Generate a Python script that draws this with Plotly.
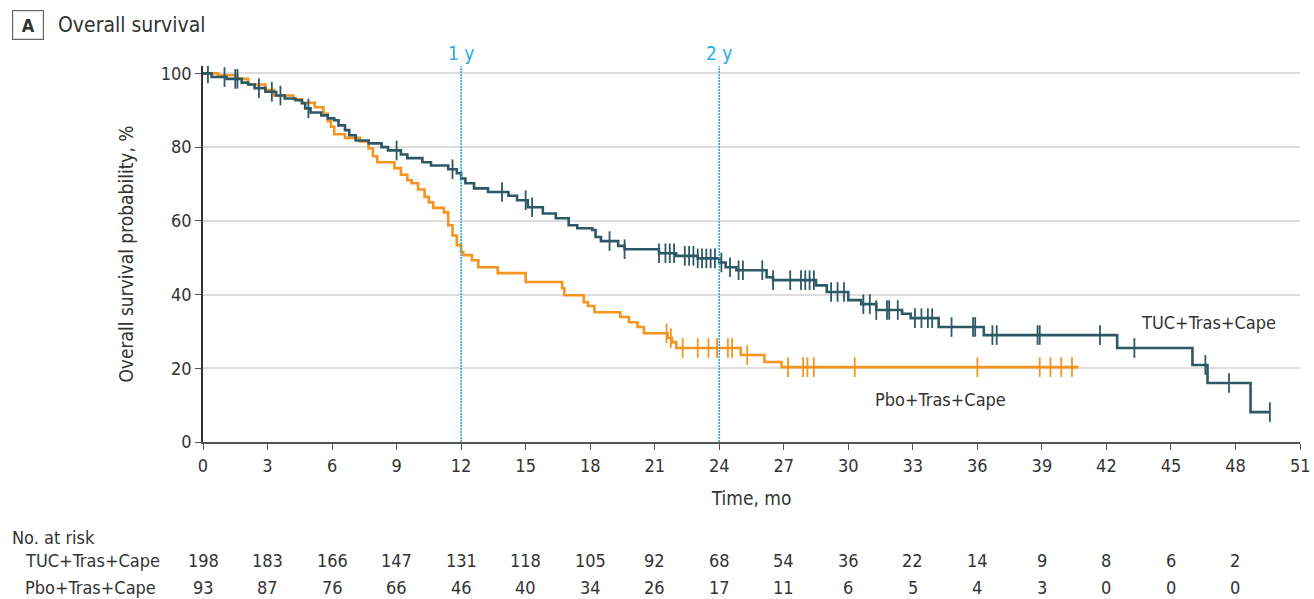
import plotly.graph_objects as go

# ---------------- data ----------------
tuc_times = [0, 0.4, 1.1, 1.8, 2.1, 2.4, 2.9, 3.4, 3.8, 4.3, 4.6, 4.75, 5.0, 5.5, 5.8, 6.1, 6.3, 6.6, 6.8, 7.1,
             7.7, 8.3, 8.6, 9.2, 9.5, 10.2, 10.6, 11.4, 11.8, 12.0, 12.2, 12.6, 13.25, 14.2, 14.6, 15.1, 15.8,
             16.4, 17.0, 17.4, 18.1, 18.25, 18.5, 19.3, 19.6, 21.2, 22.0, 23.0, 24.0, 24.3, 24.8, 26.2, 26.5,
             28.5, 29.0, 30.0, 30.6, 31.3, 32.5, 32.9, 34.2, 36.3, 42.5, 46.0, 46.7, 48.7]
tuc_surv = [100, 99.0, 98.5, 97.5, 97.0, 96.0, 95.0, 94.0, 93.2, 92.7, 91.9, 90.5, 89.4, 88.6, 87.8, 87.3, 85.9,
            84.6, 83.2, 81.8, 81.0, 80.0, 79.1, 78.0, 77.0, 75.9, 75.0, 74.0, 72.9, 71.5, 70.2, 68.8, 67.8, 66.8,
            65.6, 63.7, 62.0, 60.7, 58.8, 58.0, 57.5, 55.6, 54.5, 53.2, 52.3, 51.2, 50.5, 49.8, 48.7, 47.4, 46.6,
            44.7, 43.9, 42.5, 40.7, 38.5, 37.4, 35.8, 34.8, 33.6, 31.2, 29.0, 25.5, 20.9, 16.0, 8.1]
tuc_end = 49.6
tuc_censor = [0.23, 1.0, 1.5, 1.6, 2.6, 3.2, 3.6, 4.9, 9.0, 11.6, 13.9, 15.0, 15.3, 18.9, 19.6, 21.2, 21.5,
              21.7, 21.9, 22.4, 22.6, 22.8, 23.0, 23.2, 23.4, 23.6, 23.8, 24.1, 24.5, 24.9, 25.1, 26.0, 26.5,
              27.3, 27.8, 28.0, 28.2, 28.4, 29.2, 29.5, 29.8, 30.7, 31.0, 31.3, 31.8, 31.9, 32.3, 33.1, 33.4,
              33.7, 33.9, 34.8, 35.8, 35.9, 36.7, 36.9, 38.8, 38.9, 41.7, 43.3, 46.6, 47.7, 49.6]

pbo_times = [0, 0.7, 1.6, 2.1, 2.9, 3.3, 4.2, 4.6, 5.2, 5.6, 5.8, 5.95, 6.1, 6.6, 7.3, 7.7, 7.9, 8.1, 8.9,
             9.2, 9.5, 9.7, 10.0, 10.3, 10.5, 10.7, 11.2, 11.4, 11.6, 11.8, 12.0, 12.1, 12.5, 12.8, 13.7, 15.0,
             16.7, 16.8, 17.7, 17.9, 18.2, 19.4, 19.8, 20.2, 20.5, 21.6, 21.8, 22.0, 25.0, 26.1, 26.9]
pbo_surv = [100, 99.5, 98.5, 97.0, 95.5, 94.0, 93.0, 92.0, 90.8, 89.0, 87.0, 85.5, 83.5, 82.5, 81.5, 79.6,
            77.5, 75.9, 74.3, 72.5, 71.0, 70.2, 68.5, 66.5, 65.0, 63.5, 62.3, 58.8, 56.0, 53.4, 51.5, 50.7,
            49.3, 47.4, 45.8, 43.4, 41.7, 39.8, 37.9, 36.9, 35.2, 33.9, 32.5, 31.2, 29.5, 28.2, 27.1, 25.5,
            23.6, 21.7, 20.3]
pbo_end = 40.7
pbo_censor = [21.55, 21.75, 22.3, 23.0, 23.5, 23.9, 24.4, 24.6, 25.3, 27.2, 27.9, 28.1, 28.4, 30.3, 36.0,
              38.9, 39.4, 39.9, 40.4]

risk_times = [0, 3, 6, 9, 12, 15, 18, 21, 24, 27, 30, 33, 36, 39, 42, 45, 48]
risk_tuc = [198, 183, 166, 147, 131, 118, 105, 92, 68, 54, 36, 22, 14, 9, 8, 6, 2]
risk_pbo = [93, 87, 76, 66, 46, 40, 34, 26, 17, 11, 6, 5, 4, 3, 0, 0, 0]

x_ticks = list(range(0, 52, 3))
x_ticktext = [str(v) for v in x_ticks]
y_ticks = [0, 20, 40, 60, 80, 100]

TEAL = "#2d5866"
ORANGE = "#f7941d"
BLUE = "#29abe2"
TXT = "#333333"
FONT = "Liberation Sans Narrow, DejaVu Sans Condensed, Arial Narrow, sans-serif"


def surv_at(times, vals, t):
    s = vals[0]
    for ti, v in zip(times, vals):
        if ti <= t:
            s = v
    return s


fig = go.Figure()

for times, vals, end, cens, col, name in [
    (pbo_times, pbo_surv, pbo_end, pbo_censor, ORANGE, "Pbo+Tras+Cape"),
    (tuc_times, tuc_surv, tuc_end, tuc_censor, TEAL, "TUC+Tras+Cape"),
]:
    fig.add_trace(go.Scatter(
        x=times + [end], y=vals + [vals[-1]], mode="lines", line_shape="hv",
        line=dict(color=col, width=2.6), name=name, showlegend=False, hoverinfo="skip"))
    fig.add_trace(go.Scatter(
        x=cens, y=[surv_at(times, vals, t) for t in cens], mode="markers",
        marker=dict(symbol="line-ns", size=14, line=dict(color=col, width=1.8)),
        showlegend=False, hoverinfo="skip"))

# 1 y / 2 y dotted reference lines
for xv, lab in [(12, "1 y"), (24, "2 y")]:
    fig.add_shape(type="line", x0=xv, x1=xv, y0=0, y1=102, xref="x", yref="y",
                  line=dict(color=BLUE, width=1.6, dash="2px,1px"), layer="above")
    fig.add_annotation(x=xv, y=1.0, xref="x", yref="paper", yanchor="bottom", yshift=0,
                       text=lab, showarrow=False, font=dict(family=FONT, size=19, color=BLUE))

# series labels
fig.add_annotation(x=43.5, y=32.5, xref="x", yref="y", xanchor="left", text="TUC+Tras+Cape",
                   showarrow=False, font=dict(family=FONT, size=18, color=TXT))
fig.add_annotation(x=34.3, y=11.5, xref="x", yref="y", xanchor="center", text="Pbo+Tras+Cape",
                   showarrow=False, font=dict(family=FONT, size=18, color=TXT))

# last x tick label drawn as an annotation (keeps plot area from being shrunk)
fig.add_annotation(x=x_ticks[-1], y=0, xref="x", yref="paper", yanchor="top", yshift=-11,
                   text=x_ticktext[-1], showarrow=False, font=dict(family=FONT, size=18, color=TXT))

PH = 376.0  # plot height in px (top 66, bottom 442)
PW = 1097.0  # plot width in px (left 203, right 1300)


def py(ypix):
    return (442 - ypix) / PH


def px(xpix):
    return (xpix - 203) / PW


fig.add_annotation(x=px(28), y=py(25), xref="paper", yref="paper", xanchor="center", yanchor="middle",
                   text="<b>A</b>", showarrow=False,
                   font=dict(family=FONT, size=18, color=TXT), width=30, height=28,
                   bordercolor="#666666", borderwidth=1.2, borderpad=0)
fig.add_annotation(x=px(56), y=py(25), xref="paper", yref="paper", xanchor="left", yanchor="middle",
                   text="Overall survival", showarrow=False, font=dict(family=FONT, size=21, color=TXT))

# risk table
fig.add_annotation(x=px(10), y=py(537), xref="paper", yref="paper", xanchor="left", yanchor="middle",
                   text="No. at risk", showarrow=False, font=dict(family=FONT, size=18, color=TXT))
for label, nums, ypix in [("TUC+Tras+Cape", risk_tuc, 560), ("Pbo+Tras+Cape", risk_pbo, 587)]:
    fig.add_annotation(x=px(23), y=py(ypix), xref="paper", yref="paper", xanchor="left", yanchor="middle",
                       text=label, showarrow=False, font=dict(family=FONT, size=18, color=TXT))
    for t, n in zip(risk_times, nums):
        fig.add_annotation(x=t, y=py(ypix), xref="x", yref="paper", xanchor="center", yanchor="middle",
                           text=str(n), showarrow=False, font=dict(family=FONT, size=18, color=TXT))

fig.update_layout(
    width=1314, height=599,
    margin=dict(l=203, r=14, t=66, b=157),
    paper_bgcolor="white", plot_bgcolor="white",
    font=dict(family=FONT, size=17, color=TXT),
    xaxis=dict(range=[0, 51], tickvals=x_ticks, ticktext=x_ticktext[:-1] + [""], ticks="outside",
               ticklen=6, tickcolor="#555555", automargin=False,
               showgrid=False, zeroline=False, showline=True, linecolor="#555555", linewidth=2,
               tickfont=dict(family=FONT, size=18, color=TXT),
               title=dict(text="Time, mo", font=dict(family=FONT, size=19, color=TXT), standoff=17)),
    yaxis=dict(range=[0, 102], tickvals=y_ticks, ticks="outside", ticklen=6, tickcolor="#555555",
               showgrid=True, gridcolor="#dddddd", gridwidth=1.5, zeroline=False, showline=True,
               linecolor="#333333", linewidth=1.5,
               tickfont=dict(family=FONT, size=18, color=TXT),
               title=dict(text="Overall survival probability, %", font=dict(family=FONT, size=19, color=TXT),
                          standoff=22)),
)

fig.write_html("out.html", config={"displayModeBar": False},
               post_script="document.body.style.margin='0';document.body.style.padding='0';")
